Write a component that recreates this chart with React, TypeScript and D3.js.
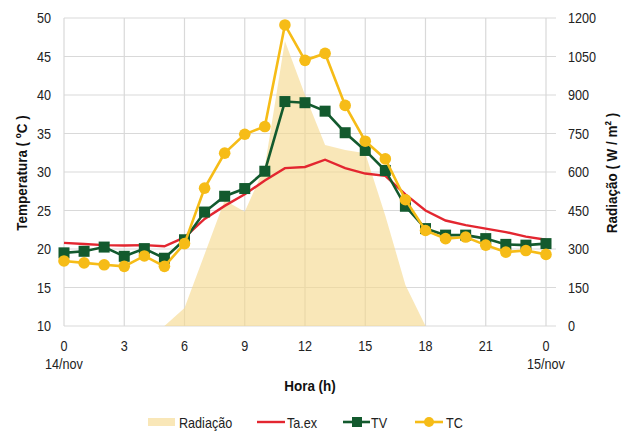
import React from "react";
import * as d3 from "d3";

const hours = [0,1,2,3,4,5,6,7,8,9,10,11,12,13,14,15,16,17,18,19,20,21,22,23,24];
const radiacao = [0,0,0,0,0,0,70,280,490,445,620,1110,900,705,686,673,430,160,0,0,0,0,0,0,0];
const taex = [20.8,20.65,20.5,20.45,20.5,20.35,21.5,23.9,25.6,27.1,28.9,30.5,30.65,31.6,30.5,29.8,29.5,27.1,25.0,23.7,23.1,22.65,22.2,21.6,21.2];
const tv = [19.5,19.7,20.25,19.05,20.05,18.8,21.2,24.8,26.85,27.85,30.1,39.15,39.0,37.9,35.1,32.8,30.2,25.55,22.65,21.8,21.8,21.35,20.6,20.5,20.7];
const tc = [18.45,18.2,17.95,17.75,19.1,17.75,20.7,27.9,32.45,34.9,35.9,49.1,44.5,45.4,38.65,34.0,31.7,26.4,22.4,21.35,21.55,20.5,19.6,19.8,19.3];
const xTicks = [0,3,6,9,12,15,18,21,24];
const tempTicks = [10,15,20,25,30,35,40,45,50];
const radTicks = [0,150,300,450,600,750,900,1050,1200];

const FONT = "'Liberation Sans', Arial, sans-serif";
const RED = "#E32630";
const GREEN = "#135A2E";
const GOLD = "#F6BC17";
const GRID = "#D9D9D9";
const SX = 0.87;

function T(props: { x: number; y: number; rot?: number; anchor?: string; size?: number; bold?: boolean; fill?: string; children: React.ReactNode }) {
  const { x, y, rot = 0, anchor = "start", size = 14.5, bold = false, fill = "#222", children } = props;
  return (
    <text
      transform={`translate(${x},${y}) rotate(${rot}) scale(${SX},1)`}
      textAnchor={anchor}
      fontSize={size}
      fontWeight={bold ? "bold" : "normal"}
      fill={fill}
    >
      {children}
    </text>
  );
}

export default function App() {
  const x = d3.scaleLinear().domain([0, 24]).range([64, 546]);
  const yT = d3.scaleLinear().domain([10, 50]).range([326, 18]);
  const yR = d3.scaleLinear().domain([0, 1200]).range([326, 18]);
  const plotRight = 556;

  const area = d3.area<number>().x((_, i) => x(hours[i])).y0(yR(0)).y1((d) => yR(d));
  const line = (vals: number[]) => d3.line<number>().x((_, i) => x(hours[i])).y((d) => yT(d))(vals) || "";

  return (
    <svg width={632} height={434} style={{ position: "absolute", left: 0, top: 0, background: "#fff" }} fontFamily={FONT}>
      {/* grid */}
      {tempTicks.map((t) => (
        <line key={"h" + t} x1={x(0)} x2={plotRight} y1={yT(t)} y2={yT(t)} stroke={GRID} strokeWidth={1.2} />
      ))}
      {xTicks.map((h) => (
        <line key={"v" + h} x1={x(h)} x2={x(h)} y1={yT(50)} y2={yT(10)} stroke={GRID} strokeWidth={1.2} />
      ))}
      {/* radiation area */}
      <path d={area(radiacao) || ""} fill="#F5D88C" fillOpacity={0.62} />
      {/* lines */}
      <path d={line(taex)} fill="none" stroke={RED} strokeWidth={2.4} />
      <path d={line(tv)} fill="none" stroke={GREEN} strokeWidth={2.6} />
      {tv.map((v, i) => (
        <rect key={"tv" + i} x={x(hours[i]) - 5.5} y={yT(v) - 5.5} width={11} height={11} fill={GREEN} />
      ))}
      <path d={line(tc)} fill="none" stroke={GOLD} strokeWidth={2.6} />
      {tc.map((v, i) => (
        <circle key={"tc" + i} cx={x(hours[i])} cy={yT(v)} r={5.8} fill={GOLD} />
      ))}
      {/* left axis labels */}
      {tempTicks.map((t) => (
        <T key={"lt" + t} x={51} y={yT(t) + 5} anchor="end">{t}</T>
      ))}
      {/* right axis labels */}
      {radTicks.map((t) => (
        <T key={"rt" + t} x={568} y={yR(t) + 5}>{t}</T>
      ))}
      {/* x labels */}
      {xTicks.map((h) => (
        <T key={"xt" + h} x={x(h)} y={351} anchor="middle">{h % 24 === 0 ? 0 : h}</T>
      ))}
      <T x={x(0)} y={369} anchor="middle">14/nov</T>
      <T x={x(24)} y={369} anchor="middle">15/nov</T>
      {/* axis titles */}
      <T x={310} y={391} anchor="middle" size={15.5} bold fill="#111">Hora (h)</T>
      <T x={27} y={173} rot={-90} anchor="middle" size={15.5} bold fill="#111">Temperatura ( ºC )</T>
      <T x={617} y={173} rot={-90} anchor="middle" size={15.5} bold fill="#111">Radiação ( W / m² )</T>
      {/* legend */}
      <rect x={148} y={418} width={27} height={8} fill="#F5D88C" fillOpacity={0.62} />
      <T x={179} y={428} size={14.5}>Radiação</T>
      <line x1={257} x2={285} y1={422} y2={422} stroke={RED} strokeWidth={2.4} />
      <T x={287} y={428} size={14.5}>Ta.ex</T>
      <line x1={343} x2={370} y1={422} y2={422} stroke={GREEN} strokeWidth={2.6} />
      <rect x={352} y={417} width={10} height={10} fill={GREEN} />
      <T x={371} y={428} size={14.5}>TV</T>
      <line x1={415} x2={443} y1={422} y2={422} stroke={GOLD} strokeWidth={2.6} />
      <circle cx={429} cy={422} r={5} fill={GOLD} />
      <T x={446} y={428} size={14.5}>TC</T>
    </svg>
  );
}
